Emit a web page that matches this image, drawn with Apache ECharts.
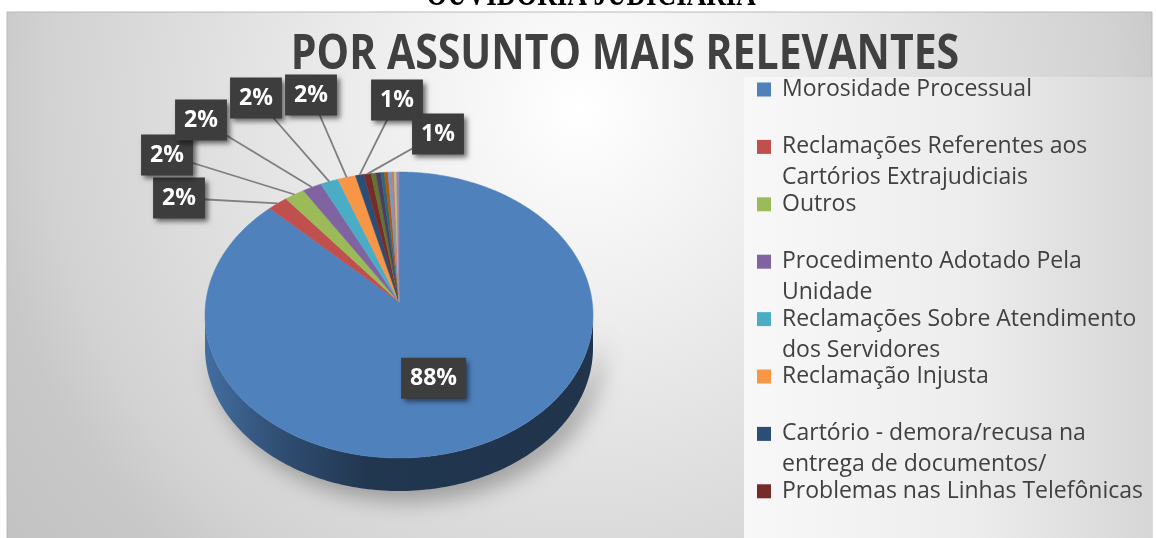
<!DOCTYPE html>
<html><head><meta charset="utf-8">
<script src="https://cdn.jsdelivr.net/npm/echarts@6/dist/echarts.min.js"></script>
<style>html,body{margin:0;padding:0;background:#fff}#c{width:1156px;height:538px}</style>
</head><body><div id="c"></div>
<script>
// ---- data ----
const categories = [
  'Morosidade Processual',
  'Reclamações Referentes aos Cartórios Extrajudiciais',
  'Outros',
  'Procedimento Adotado Pela Unidade',
  'Reclamações Sobre Atendimento dos Servidores',
  'Reclamação Injusta',
  'Cartório - demora/recusa na entrega de documentos/',
  'Problemas nas Linhas Telefônicas',
  'Assunto 9', 'Assunto 10', 'Assunto 11', 'Assunto 12',
  'Assunto 13', 'Assunto 14', 'Assunto 15', 'Assunto 16'
];
const values = [884, 17, 17, 16, 15, 15, 7, 6, 4, 4, 3, 3, 3, 2, 2, 2];
const legendCount = 8;
const titleText = 'POR ASSUNTO MAIS RELEVANTES';
const headerText = 'OUVIDORIA JUDICIÁRIA';

// ---- style / layout ----
const palette = ['#4f81bd','#c0504d','#9bbb59','#8064a2','#4bacc6','#f79646',
  '#2c4d75','#772c2a','#5f7530','#4d3b62','#276a7c','#b65708',
  '#729aca','#cd7371','#afc97a','#9983b5'];
const CX = 399, CY = 315, RX = 194, RY = 143, DEPTH = 33, APX = 399, APY = 302;
const labelOffsets = [null, [-220,-104], [-232,-147], [-198,-182], [-143,-204], [-88,-207], [-2,-202], [39,-168]];
const LEGEND_FONT = 23, LEGEND_LH = 31, WRAP = 372;

const total = values.reduce((a, b) => a + b, 0);
const starts = [];
values.reduce((acc, v, i) => { starts[i] = acc; return acc + v; }, 0);

function P(t, dy) { return [CX + RX * Math.sin(t), CY - RY * Math.cos(t) + (dy || 0)]; }
function shade(c, f) {
  const a = echarts.color.parse(c);
  return 'rgb(' + Math.round(a[0] * f) + ',' + Math.round(a[1] * f) + ',' + Math.round(a[2] * f) + ')';
}

function renderItem(params, api) {
  const i = params.dataIndex;
  const v = api.value(0);
  const t1 = starts[i] / total * Math.PI * 2;
  const t2 = (starts[i] + v) / total * Math.PI * 2;
  const color = api.visual('color');
  const children = [];
  const s1 = Math.max(t1, Math.PI / 2), s2 = Math.min(t2, Math.PI * 1.5);
  if (s2 > s1) {
    const n = Math.max(2, Math.ceil((s2 - s1) / 0.02));
    const pts = [];
    for (let k = 0; k <= n; k++) pts.push(P(s1 + (s2 - s1) * k / n));
    for (let k = n; k >= 0; k--) pts.push(P(s1 + (s2 - s1) * k / n, DEPTH));
    children.push({
      type: 'polygon', z2: 0, shape: { points: pts },
      style: {
        fill: { type: 'linear', global: true, x: CX - RX, y: 0, x2: CX + RX, y2: 0,
          colorStops: [
            { offset: 0, color: shade(color, 0.85) },
            { offset: 0.18, color: shade(color, 0.62) },
            { offset: 0.42, color: shade(color, 0.42) },
            { offset: 1, color: shade(color, 0.4) }
          ] },
        shadowColor: 'rgba(0,0,0,0.3)', shadowBlur: 22, shadowOffsetX: 8, shadowOffsetY: 10
      }
    });
  }
  const n2 = Math.max(2, Math.ceil((t2 - t1) / 0.01));
  const top = [[APX, APY]];
  for (let k = 0; k <= n2; k++) top.push(P(t1 + (t2 - t1) * k / n2));
  children.push({ type: 'polygon', z2: 1, shape: { points: top },
    style: { fill: color, stroke: color, lineWidth: 0.5 } });
  const pct = Math.round(v * 100 / total);
  if (pct >= 1) {
    const tm = (t1 + t2) / 2;
    let pos;
    if (!labelOffsets[i]) {
      pos = [APX + 0.5 * RX * Math.sin(tm), APY - 0.57 * RY * Math.cos(tm)];
    } else {
      pos = [APX + labelOffsets[i][0], APY + labelOffsets[i][1]];
      children.push({ type: 'polyline', z2: 5, shape: { points: [pos, P(tm)] },
        style: { stroke: '#7f7f7f', lineWidth: 1.8, fill: null } });
    }
    children.push({ type: 'text', z2: 10, x: pos[0], y: pos[1],
      style: { text: pct + '%', fill: '#ffffff', fontFamily: 'Open Sans', fontWeight: 'bold', fontSize: 23,
        align: 'center', verticalAlign: 'middle', lineHeight: 27,
        backgroundColor: '#3d3d3d', padding: [7, 9, 7, 9],
        shadowColor: 'rgba(0,0,0,0.55)', shadowBlur: 5, shadowOffsetX: 3, shadowOffsetY: 3 } });
  }
  return { type: 'group', children };
}

// word wrapping for legend names (first line is kept centred on the marker)
const measureCtx = document.createElement('canvas').getContext('2d');
measureCtx.font = LEGEND_FONT + 'px "Open Sans"';
function wrapName(name) {
  const words = name.split(' ');
  const lines = [];
  let cur = '';
  words.forEach(w => {
    const test = cur ? cur + ' ' + w : w;
    if (cur && measureCtx.measureText(test).width > WRAP) { lines.push(cur); cur = w; }
    else cur = test;
  });
  lines.push(cur);
  return lines.length === 1 ? '\n' + lines[0] + '\n' : '\n' + lines.slice(0, 2).join('\n');
}

const chart = echarts.init(document.getElementById('c'), null, { renderer: 'canvas' });
chart.setOption({
  animation: false,
  color: palette,
  graphic: [
    { type: 'rect', z: -10, shape: { x: 7, y: 12, width: 1145, height: 540 },
      style: { stroke: '#b8b8b8', lineWidth: 1,
        fill: { type: 'radial', x: 0.5, y: 0.18, r: 1.35, colorStops: [
          { offset: 0, color: '#ffffff' }, { offset: 0.28, color: '#eeeeee' },
          { offset: 0.73, color: '#d2d2d2' }, { offset: 0.82, color: '#c8c8c8' }, { offset: 1, color: '#c2c2c2' } ] } } },
    { type: 'rect', z: -9, shape: { x: 744, y: 77, width: 408, height: 470 },
      style: { fill: { type: 'linear', x: 0, y: 0, x2: 1, y2: 0, colorStops: [
          { offset: 0, color: '#f8f8f8' }, { offset: 0.55, color: '#ededed' }, { offset: 1, color: '#d6d6d6' } ] } } },
    { type: 'text', z: 10, x: 591, y: 13, scaleY: 1.3, style: { text: headerText, fill: '#000', fontFamily: 'Liberation Serif',
        fontWeight: 'bold', fontSize: 27, align: 'center', verticalAlign: 'bottom' } },
    { type: 'text', z: 10, x: 625, y: 55, scaleY: 1.2, style: { text: titleText, fill: '#404040',
        fontFamily: 'Open Sans', fontWeight: 'bold', fontSize: 41, align: 'center', verticalAlign: 'middle' } }
  ],
  legend: {
    data: categories.slice(0, legendCount),
    orient: 'vertical', left: 757, top: 43, padding: 0,
    icon: 'rect', itemWidth: 14, itemHeight: 14, itemGap: 57.4 - 3 * LEGEND_LH,
    selectedMode: false,
    formatter: wrapName,
    textStyle: { fontFamily: 'Open Sans', fontSize: LEGEND_FONT, color: '#404040',
      lineHeight: LEGEND_LH, padding: [0, 0, 0, 6] }
  },
  series: [
    { type: 'custom', coordinateSystem: 'none', colorBy: 'data', renderItem,
      data: values.map((v, i) => ({ name: categories[i], value: v })) },
    { type: 'pie', radius: [0, 0], center: [CX, CY], silent: true, label: { show: false }, labelLine: { show: false },
      data: values.map((v, i) => ({ name: categories[i], value: v })) }
  ]
});
</script></body></html>
